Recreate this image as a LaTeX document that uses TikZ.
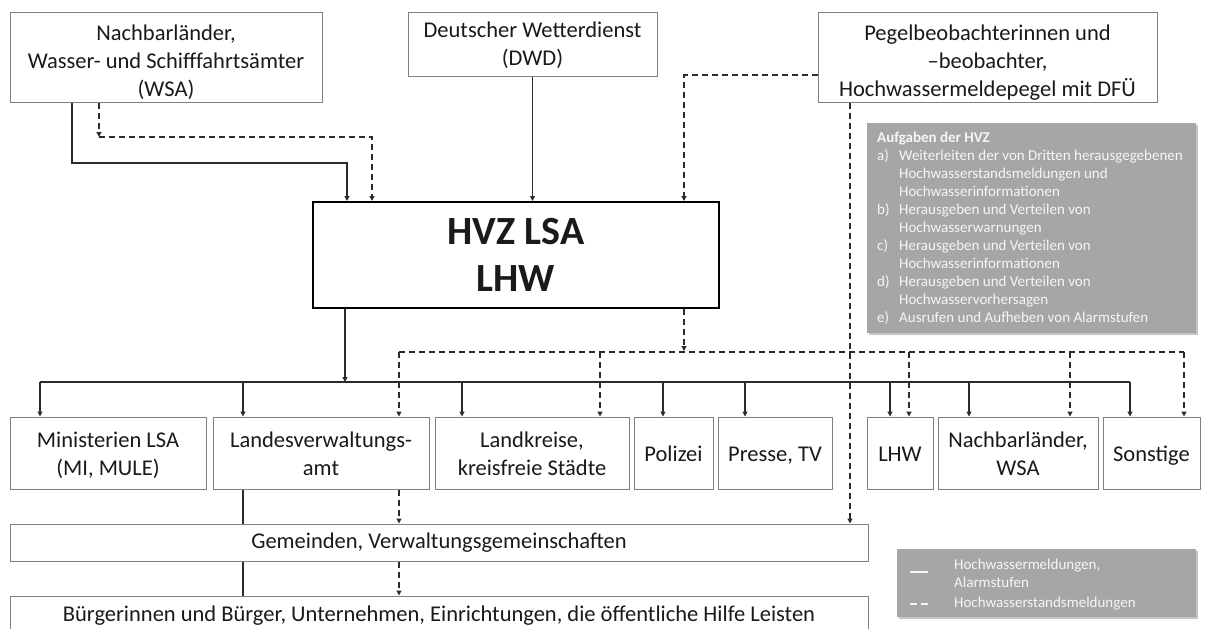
\documentclass[tikz,border=0pt]{standalone}
\usepackage{fontspec}
\setmainfont{Carlito}
\usetikzlibrary{arrows.meta,shadows}
\definecolor{boxline}{HTML}{808080}
\definecolor{txt}{HTML}{1A1A1A}
\definecolor{conn}{HTML}{2B2B2B}
\definecolor{grayfill}{HTML}{A6A6A6}
\definecolor{lighttxt}{HTML}{F6F6F6}
\newcommand{\boxtext}[1]{\begin{tabular}{@{}c@{}}#1\end{tabular}}
\newcommand{\lowered}[2]{\raisebox{-#1}[\height][\depth]{#2}}
\begin{document}
\begin{tikzpicture}[x=1pt,y=-1pt,
  box/.style={draw=boxline, line width=1pt, fill=white, text=txt, inner sep=0pt, font=\fontsize{22.5}{28}\selectfont},
  mainbox/.style={box, draw=black, line width=2pt, align=center, font=\fontsize{40}{47}\selectfont\bfseries},
  graybox/.style={fill=grayfill, draw=none, inner sep=0pt, drop shadow={opacity=0.45, shadow xshift=2pt, shadow yshift=-2pt}},
  con/.style={draw=conn, line width=1.4pt},
  dcon/.style={con, dash pattern=on 6pt off 4pt},
  arr/.style={-{Triangle[length=5pt,width=5pt]}},
  legtxt/.style={text=lighttxt, align=left, inner sep=0pt, font=\fontsize{15}{18}\selectfont},
]
\useasboundingbox (0,0) rectangle (1208,629);
\fill[white] (0,0) rectangle (1208,629);
\begin{scope}
\clip (0,0) rectangle (1208,629);

% top sources
\node[box, minimum width=312pt, minimum height=90pt] (nb) at (166,57) {\lowered{6pt}{\boxtext{Nachbarländer,\\Wasser- und Schifffahrtsämter\\(WSA)}}};
\node[box, minimum width=249pt, minimum height=64pt] (dwd) at (532.5,44) {\lowered{2pt}{\boxtext{Deutscher Wetterdienst\\(DWD)}}};
\node[box, minimum width=339pt, minimum height=90pt] (peg) at (987.5,57) {\lowered{6pt}{\boxtext{Pegelbeobachterinnen und\\–beobachter,\\Hochwassermeldepegel mit DFÜ}}};

% central
\node[mainbox, minimum width=406pt, minimum height=106pt] (hvz) at (516,255) {HVZ LSA\\LHW};

% tasks box
\node[graybox, anchor=north west, minimum width=329pt, minimum height=210pt] (aufg) at (867,123) {};
\node[anchor=north west, align=left, inner sep=0pt, text=lighttxt, font=\fontsize{15}{18}\selectfont] (aufgt) at (877,132) {%
\textbf{Aufgaben der HVZ}\\
\makebox[22pt][l]{a)}Weiterleiten der von Dritten herausgegebenen\\
\hspace*{22pt}Hochwasserstandsmeldungen und\\
\hspace*{22pt}Hochwasserinformationen\\
\makebox[22pt][l]{b)}Herausgeben und Verteilen von\\
\hspace*{22pt}Hochwasserwarnungen\\
\makebox[22pt][l]{c)}Herausgeben und Verteilen von\\
\hspace*{22pt}Hochwasserinformationen\\
\makebox[22pt][l]{d)}Herausgeben und Verteilen von\\
\hspace*{22pt}Hochwasservorhersagen\\
\makebox[22pt][l]{e)}Ausrufen und Aufheben von Alarmstufen};

% recipients row
\node[box, minimum width=196pt, minimum height=72pt] (min) at (108,453) {\lowered{3pt}{\boxtext{Ministerien LSA\\(MI, MULE)}}};
\node[box, minimum width=216pt, minimum height=72pt] (lva) at (321,453) {\lowered{3pt}{\boxtext{Landesverwaltungs-\\amt}}};
\node[box, minimum width=194pt, minimum height=72pt] (lk) at (532,453) {\lowered{3pt}{\boxtext{Landkreise,\\kreisfreie Städte}}};
\node[box, minimum width=79pt, minimum height=72pt] (pol) at (673.5,453) {\lowered{3pt}{\boxtext{Polizei}}};
\node[box, minimum width=114pt, minimum height=72pt] (pre) at (775,453) {\lowered{3pt}{\boxtext{Presse, TV}}};
\node[box, minimum width=66pt, minimum height=72pt] (lhw) at (900,453) {\lowered{3pt}{\boxtext{LHW}}};
\node[box, minimum width=160pt, minimum height=72pt] (nws) at (1018,453) {\lowered{3pt}{\boxtext{Nachbarländer,\\WSA}}};
\node[box, minimum width=97pt, minimum height=72pt] (son) at (1151.5,453) {\lowered{3pt}{\boxtext{Sonstige}}};

% lower levels
\node[box, minimum width=858pt, minimum height=37pt] (gem) at (439,542.5) {\boxtext{Gemeinden, Verwaltungsgemeinschaften}};
\node[box, minimum width=858pt, minimum height=40pt] (bur) at (439,616) {\boxtext{Bürgerinnen und Bürger, Unternehmen, Einrichtungen, die öffentliche Hilfe Leisten}};

% legend
\node[graybox, anchor=north west, minimum width=299pt, minimum height=68pt] (leg) at (897,549) {};
\node[legtxt, anchor=west] (legA) at (954,573) {Hochwassermeldungen,\\Alarmstufen};
\node[legtxt, anchor=west] (legB) at (954,604) {Hochwasserstandsmeldungen};
\draw[lighttxt, line width=1.6pt] (910,572) -- (928,572);
\draw[lighttxt, line width=1.6pt] (910,604) -- (917,604) (921,604) -- (928,604);

% ---- connectors into HVZ
\coordinate (a1) at (72,163);
\coordinate (a2) at (347,163);
\draw[con, arr] (nb.south -| a1) -- (a1) -- (a2) -- (hvz.north -| a2);
\coordinate (q1) at (99,137);
\coordinate (q2) at (372,137);
\draw[dcon, arr] (nb.south -| q1) -- (q1);
\draw[dcon, arr] (q1) -- (q2) -- (hvz.north -| q2);
\draw[con, arr] (dwd.south) -- (dwd.south |- hvz.north);
\coordinate (p1) at (684,75);
\draw[dcon, arr] (peg.west |- p1) -- (p1) -- (hvz.north -| p1);
\coordinate (v1) at (850,0);
\draw[dcon, arr] (peg.south -| v1) -- (gem.north -| v1);

% ---- solid distribution bus
\coordinate (h1) at (345,382);
\draw[con, arr] (hvz.south -| h1) -- (h1);
\coordinate (s1) at (40,382);
\coordinate (s2) at (243,382);
\coordinate (s3) at (462,382);
\coordinate (s4) at (663,382);
\coordinate (s5) at (745,382);
\coordinate (s6) at (890,382);
\coordinate (s7) at (969,382);
\coordinate (s8) at (1130,382);
\draw[con] (s1) -- (s8);
\draw[con, arr] (s1) -- (s1 |- min.north);
\draw[con, arr] (s2) -- (s2 |- lva.north);
\draw[con, arr] (s3) -- (s3 |- lk.north);
\draw[con, arr] (s4) -- (s4 |- pol.north);
\draw[con, arr] (s5) -- (s5 |- pre.north);
\draw[con, arr] (s6) -- (s6 |- lhw.north);
\draw[con, arr] (s7) -- (s7 |- nws.north);
\draw[con, arr] (s8) -- (s8 |- son.north);

% ---- dashed distribution bus
\coordinate (d0) at (684,351);
\draw[dcon, arr] (hvz.south -| d0) -- (d0);
\coordinate (d1) at (399,352);
\coordinate (d2) at (600,352);
\coordinate (d3) at (909,352);
\coordinate (d4) at (1070,352);
\coordinate (d5) at (1184,352);
\draw[dcon] (d1) -- (d5);
\draw[dcon, arr] (d1) -- (d1 |- lva.north);
\draw[dcon, arr] (d2) -- (d2 |- lk.north);
\draw[dcon, arr] (d3) -- (d3 |- lhw.north);
\draw[dcon, arr] (d4) -- (d4 |- nws.north);
\draw[dcon, arr] (d5) -- (d5 |- son.north);

% ---- lower chain
\draw[con] (lva.south -| s2) -- (gem.north -| s2);
\draw[con] (gem.south -| s2) -- (bur.north -| s2);
\draw[dcon, arr] (lva.south -| d1) -- (gem.north -| d1);
\draw[dcon, arr] (gem.south -| d1) -- (bur.north -| d1);
\end{scope}
\end{tikzpicture}
\end{document}
